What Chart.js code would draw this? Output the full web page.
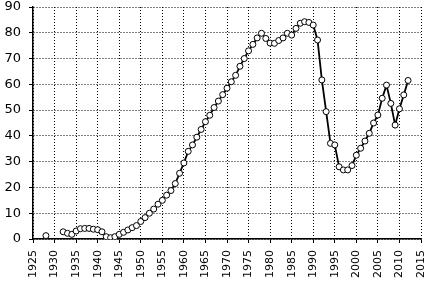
<!DOCTYPE html>
<html>
<head>
<meta charset="utf-8">
<script src="https://cdn.jsdelivr.net/npm/chart.js@4/dist/chart.umd.min.js"></script>
<style>
html,body{margin:0;padding:0;background:#fff;}
#wrap{width:432px;height:289px;position:relative;}
</style>
</head>
<body>
<div id="wrap"><canvas id="c" width="432" height="289"></canvas></div>
<script>
const years = [1928,1929,1930,1931,1932,1933,1934,1935,1936,1937,1938,1939,
  1940,1941,1942,1943,1944,1945,1946,1947,1948,1949,
  1950,1951,1952,1953,1954,1955,1956,1957,1958,1959,
  1960,1961,1962,1963,1964,1965,1966,1967,1968,1969,
  1970,1971,1972,1973,1974,1975,1976,1977,1978,1979,
  1980,1981,1982,1983,1984,1985,1986,1987,1988,1989,
  1990,1991,1992,1993,1994,1995,1996,1997,1998,1999,
  2000,2001,2002,2003,2004,2005,2006,2007,2008,2009,
  2010,2011,2012];
const values = [1.3,null,null,null,2.8,2.2,1.8,3.1,4.0,4.1,4.1,3.8,
  3.6,2.8,0.9,0.5,0.9,1.8,2.6,3.5,4.4,5.2,
  6.8,8.3,10.0,11.6,13.5,15.0,17.0,18.8,21.5,25.5,
  29.5,34.0,36.5,39.5,42.5,45.5,48.0,51.0,53.5,56.0,
  58.5,61.0,63.5,67.0,70.0,73.0,75.5,78.0,79.8,77.8,
  76.0,75.9,77.0,78.0,79.8,79.1,81.7,83.7,84.3,84.0,
  83.0,77.2,61.7,49.4,37.1,36.5,28.0,26.8,26.8,28.5,
  32.5,35.2,38.0,41.0,45.0,48.1,54.6,59.7,52.6,44.2,
  50.5,55.9,61.5];
const xTicks = [1925,1930,1935,1940,1945,1950,1955,1960,1965,1970,1975,1980,1985,1990,1995,2000,2005,2010,2015];
const yTicks = [0,10,20,30,40,50,60,70,80,90];

const pts = years.map((y,i)=>({x:y, y:values[i]}));

// draws the x tick labels rotated (reading bottom to top), positioned by the x scale
const xLabels = {
  id: 'xLabels',
  afterDraw(chart) {
    const s = chart.scales.x, ctx = chart.ctx;
    ctx.save();
    ctx.fillStyle = '#000';
    ctx.font = '11px "DejaVu Sans"';
    ctx.textAlign = 'right';
    ctx.textBaseline = 'middle';
    s.ticks.forEach(t => {
      const px = s.getPixelForValue(t.value);
      ctx.save();
      ctx.translate(px, s.top + 11);
      ctx.rotate(-Math.PI / 2);
      ctx.fillText(String(t.value), 0, 0);
      ctx.restore();
    });
    ctx.restore();
  }
};

new Chart(document.getElementById('c'), {
  type: 'line',
  plugins: [xLabels],
  data: { datasets: [{
    data: pts,
    borderColor: '#000',
    borderWidth: 1.8,
    pointRadius: 3,
    pointBackgroundColor: '#fff',
    pointBorderColor: '#000',
    pointBorderWidth: 1,
    spanGaps: false,
    tension: 0
  }]},
  options: {
    responsive: false,
    animation: false,
    events: [],
    layout: { padding: { top: 7, right: 11, left: 0, bottom: 0 } },
    plugins: { legend: { display: false }, tooltip: { enabled: false } },
    scales: {
      x: {
        type: 'linear', min: 1925, max: 2015,
        afterBuildTicks: s => { s.ticks = xTicks.map(v=>({value:v})); },
        afterFit: s => { s.height = 50; s.paddingLeft = 0; s.paddingRight = 0; s.paddingTop = 0; s.paddingBottom = 0; },
        grid: { color: '#000', lineWidth: 1, tickLength: 4, tickColor: '#000' },
        border: { display: true, color: '#000', width: 1.5, dash: [1,2] },
        ticks: { display: false }
      },
      y: {
        type: 'linear', min: 0, max: 90,
        afterBuildTicks: s => { s.ticks = yTicks.map(v=>({value:v})); },
        afterFit: s => { s.width = 33; s.paddingTop = 0; s.paddingBottom = 0; s.paddingLeft = 0; s.paddingRight = 0; },
        grid: { color: '#000', lineWidth: 1, tickLength: 4, tickColor: '#000' },
        border: { display: true, color: '#000', width: 1.5, dash: [1,2] },
        ticks: { color: '#000', padding: 8, font: { family: 'DejaVu Sans', size: 13 } }
      }
    }
  }
});
</script>
</body>
</html>
